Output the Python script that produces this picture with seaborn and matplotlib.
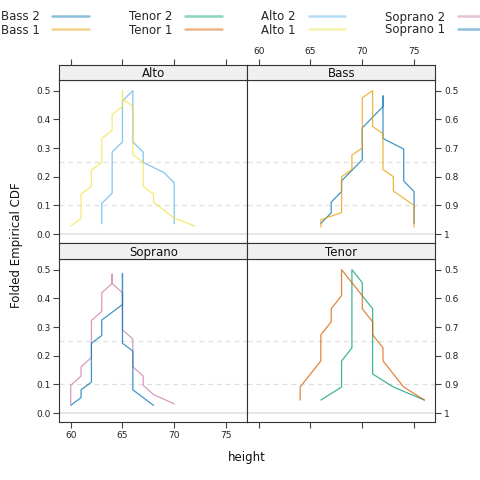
import numpy as np
import pandas as pd
import matplotlib
matplotlib.use("Agg")
import matplotlib.pyplot as plt
import seaborn as sns
from matplotlib.lines import Line2D

sns.set_theme(style="white")
plt.rcParams["font.family"] = ["DejaVu Sans"]

# ---- data: height values and how many singers have each value ----
voices = ["Bass 2", "Bass 1", "Tenor 2", "Tenor 1",
          "Alto 2", "Alto 1", "Soprano 2", "Soprano 1"]
panel_of = {"Bass 2": "Bass", "Bass 1": "Bass", "Tenor 2": "Tenor", "Tenor 1": "Tenor",
            "Alto 2": "Alto", "Alto 1": "Alto", "Soprano 2": "Soprano", "Soprano 1": "Soprano"}

bass2_h = [66, 67, 68, 69, 70, 71, 72, 74, 75]
bass2_c = [1, 2, 2, 1, 4, 1, 7, 4, 4]
bass1_h = [66, 68, 69, 70, 71, 72, 73, 74, 75]
bass1_c = [2, 6, 3, 8, 6, 6, 3, 1, 4]
tenor2_h = [66, 68, 69, 70, 71, 73, 76]
tenor2_c = [1, 3, 7, 2, 6, 1, 1]
tenor1_h = [64, 65, 66, 67, 68, 69, 70, 71, 72, 73, 74, 76]
tenor1_c = [2, 1, 3, 2, 3, 1, 2, 2, 2, 1, 1, 1]
alto2_h = [63, 64, 65, 66, 67, 69, 70]
alto2_c = [3, 5, 5, 6, 2, 1, 5]
alto1_h = [60, 61, 62, 63, 64, 65, 66, 67, 68, 69, 70, 72]
alto1_c = [1, 4, 3, 4, 3, 4, 7, 4, 2, 1, 1, 1]
soprano2_h = [60, 61, 62, 63, 64, 65, 66, 67, 68, 70]
soprano2_c = [3, 2, 5, 3, 4, 5, 4, 2, 1, 1]
soprano1_h = [60, 61, 62, 63, 64, 65, 66, 67, 68]
soprano1_c = [1, 2, 6, 3, 1, 15, 6, 1, 1]

heights = {"Bass 2": (bass2_h, bass2_c), "Bass 1": (bass1_h, bass1_c),
           "Tenor 2": (tenor2_h, tenor2_c), "Tenor 1": (tenor1_h, tenor1_c),
           "Alto 2": (alto2_h, alto2_c), "Alto 1": (alto1_h, alto1_c),
           "Soprano 2": (soprano2_h, soprano2_c), "Soprano 1": (soprano1_h, soprano1_c)}

colors = {"Bass 2": "#0072B2", "Bass 1": "#E69F00", "Tenor 2": "#009E73",
          "Tenor 1": "#D55E00", "Alto 2": "#56B4E9", "Alto 1": "#F0E442",
          "Soprano 2": "#CC79A7", "Soprano 1": "#0072B2"}

# ---- folded empirical CDF ----
frames = []
for v in voices:
    h, c = heights[v]
    x = np.sort(np.repeat(h, c))
    n = len(x)
    p = np.arange(1, n + 1) / (n + 1)
    frames.append(pd.DataFrame({"height": x, "fcdf": np.minimum(p, 1 - p),
                                "voice": v, "panel": panel_of[v]}))
df = pd.concat(frames, ignore_index=True)

# ---- layout (pixel based) ----
W = H = 480
fig = plt.figure(figsize=(4.8, 4.8), dpi=100)

def box(x0, y0, x1, y1):
    return [x0 / W, 1 - y1 / H, (x1 - x0) / W, (y1 - y0) / H]

xl, xm, xr = 59.3, 247.3, 435.3
rows = {"top": (65.0, 80.0, 243.3), "bottom": (243.3, 259.0, 422.3)}
layout = {"Alto": ("top", 0), "Bass": ("top", 1),
          "Soprano": ("bottom", 0), "Tenor": ("bottom", 1)}

xlim = (58.9, 77.05)
ylim = (-0.032, 0.537)
xt = [60, 65, 70, 75]
yt = [0.0, 0.1, 0.2, 0.3, 0.4, 0.5]
frame_c = "#333333"
tick_kw = dict(length=4.3, width=0.8, color="#444444", labelsize=6.5,
               labelcolor="#222222", pad=2)

for panel, (row, col) in layout.items():
    s0, s1, p1 = rows[row]
    x0, x1 = (xl, xm) if col == 0 else (xm, xr)
    ax = fig.add_axes(box(x0, s1, x1, p1))
    sax = fig.add_axes(box(x0, s0, x1, s1))

    sub = df[df["panel"] == panel]
    ax.axhline(0, color="#E4E4E4", lw=1.3, zorder=0)
    for yv in (0.1, 0.25):
        ax.axhline(yv, color="#E0E0E0", lw=0.9, ls=(0, (4, 3)), zorder=0)
    sns.lineplot(data=sub, x="height", y="fcdf", hue="voice",
                 palette={v: colors[v] for v in sub["voice"].unique()},
                 sort=False, estimator=None, legend=False, ax=ax,
                 lw=0.9, alpha=0.75)
    ax.set_xlim(xlim)
    ax.set_ylim(ylim)
    ax.set_xlabel("")
    ax.set_ylabel("")
    ax.set_facecolor("white")
    for sp in ax.spines.values():
        sp.set_color(frame_c)
        sp.set_linewidth(0.8)

    # y axis
    ax.set_yticks(yt)
    ax.tick_params(axis="both", direction="out", **tick_kw)
    if col == 0:
        ax.yaxis.tick_left()
        ax.set_yticklabels(["0.0", "0.1", "0.2", "0.3", "0.4", "0.5"])
    else:
        ax.yaxis.tick_right()
        ax.set_yticklabels(["1", "0.9", "0.8", "0.7", "0.6", "0.5"])
    # x axis of the panel
    if row == "bottom":
        ax.set_xticks(xt)
        ax.xaxis.tick_bottom()
        if col == 0:
            ax.set_xticklabels([str(t) for t in xt])
        else:
            ax.set_xticklabels([])
    else:
        ax.set_xticks([])

    # strip
    sax.set_xlim(xlim)
    sax.set_ylim(0, 1)
    sax.set_facecolor("#F0F0F0")
    sax.set_yticks([])
    for sp in sax.spines.values():
        sp.set_color(frame_c)
        sp.set_linewidth(0.8)
    if row == "top":
        sax.set_xticks(xt)
        sax.xaxis.tick_top()
        sax.tick_params(axis="x", direction="out", **tick_kw)
        if col == 1:
            sax.set_xticklabels([str(t) for t in xt])
        else:
            sax.set_xticklabels([])
    else:
        sax.set_xticks([])
    sax.text(0.5, 0.42, panel, transform=sax.transAxes, ha="center",
             va="center", fontsize=8.5, color="#111111")

# axis titles
fig.text(247.3 / W, 1 - 457 / H, "height", ha="center", va="center",
         fontsize=8.5, color="#111111")
fig.text(17 / W, 1 - 245 / H, "Folded Empirical CDF", ha="center",
         va="center", rotation=90, fontsize=8.5, color="#111111")

# legend
handles = [Line2D([], [], color=colors[v], lw=1.8, alpha=0.45) for v in voices]
fig.legend(handles, voices, ncol=4, loc="center",
           bbox_to_anchor=(247.5 / W, 1 - 23.5 / H), frameon=False,
           markerfirst=False, fontsize=8.5, handlelength=3.1,
           handletextpad=1.1, columnspacing=3.35, labelspacing=0.0,
           borderpad=0, borderaxespad=0)

fig.savefig("out.png", dpi=100)
